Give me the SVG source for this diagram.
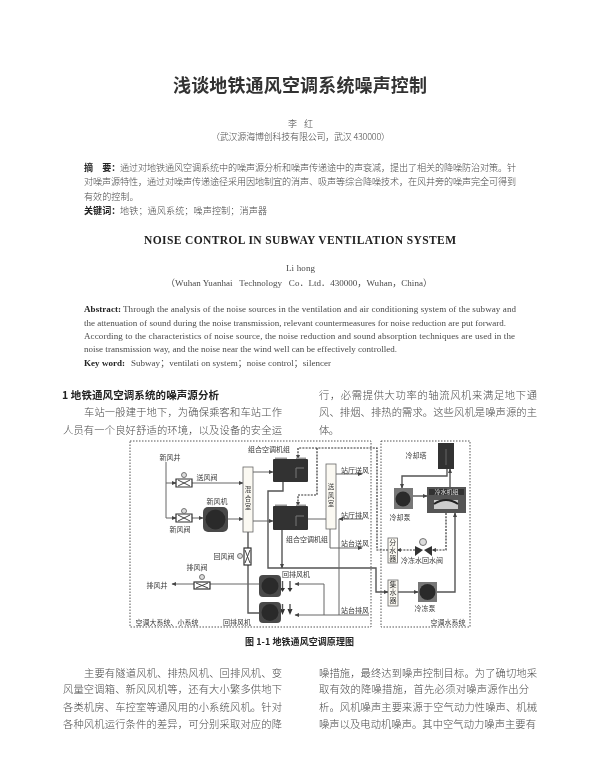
<svg xmlns="http://www.w3.org/2000/svg" width="600" height="768" viewBox="0 0 600 768">
<style>
text{font-family:"Liberation Serif","Noto Sans CJK SC",serif;fill:#4a4a4a}
.cjk{font-family:"Noto Sans CJK SC",sans-serif;font-weight:300}
.b{font-weight:700;fill:#222}
.body{font-size:10.3px}
.abs{font-size:9.1px}
.en{font-size:9px}
.l{font-size:7px;fill:#3a3a3a;text-anchor:middle;font-weight:400}
.r{font-size:6.500px}
.vt{writing-mode:vertical-rl;letter-spacing:1px}
.frame{fill:none;stroke:#444;stroke-width:.9;stroke-dasharray:1.5 1.5}
.p{fill:none;stroke:#666;stroke-width:1}
.t{fill:none;stroke:#555;stroke-width:1.4}
.d{fill:none;stroke:#333;stroke-width:1.2;stroke-dasharray:2 1.2}
.a{marker-end:url(#ah)}
.box{fill:#fbf9f2;stroke:#666;stroke-width:.8}
.fan{fill:#4a4a4a}
.hub{fill:#2c2c2c}
.v{fill:#fff;stroke:#333;stroke-width:1.2}
.vx{fill:none;stroke:#333;stroke-width:.9}
.vc{fill:#ddd;stroke:#555;stroke-width:.8}
</style>
<defs>
<marker id="ah" markerWidth="5" markerHeight="5" refX="4" refY="2.5" orient="auto" markerUnits="userSpaceOnUse"><path d="M0 .5L4.5 2.5L0 4.5z" fill="#444"/></marker>
<filter id="soft" x="0" y="0" width="1" height="1" filterUnits="objectBoundingBox"><feGaussianBlur stdDeviation="0.45"/></filter>
</defs>
<rect width="600" height="768" fill="#fff"/>
<g filter="url(#soft)">
<g id="text-top">
<text class="cjk" x="173" y="92" font-size="18" textLength="254" style="font-weight:700;fill:#333">浅谈地铁通风空调系统噪声控制</text>
<text class="cjk" x="288" y="127" font-size="9">李</text>
<text class="cjk" x="304" y="127" font-size="9">红</text>
<text class="cjk" x="211" y="140" font-size="9" textLength="179">（武汉源海博创科技有限公司，武汉 430000）</text>
<text class="cjk abs" x="84" y="170.500" style="font-weight:700;fill:#222">摘　要：</text>
<text class="cjk abs" x="120" y="170.500" textLength="396">通过对地铁通风空调系统中的噪声源分析和噪声传递途中的声衰减，提出了相关的降噪防治对策。针</text>
<text class="cjk abs" x="84" y="185" textLength="432">对噪声源特性，通过对噪声传递途径采用因地制宜的消声、吸声等综合降噪技术，在风井旁的噪声完全可得到</text>
<text class="cjk abs" x="84" y="199.500">有效的控制。</text>
<text class="cjk abs" x="84" y="214" style="font-weight:700;fill:#222">关键词：</text>
<text class="cjk abs" x="120" y="214" textLength="147">地铁；通风系统；噪声控制；消声器</text>
<text class="b" x="144" y="244" font-size="11.500" textLength="312">NOISE CONTROL IN SUBWAY VENTILATION SYSTEM</text>
<text x="286" y="271" font-size="9" textLength="29">Li hong</text>
<text x="166" y="286" font-size="9" textLength="266" xml:space="preserve">（Wuhan Yuanhai   Technology   Co．Ltd．430000，Wuhan，China）</text>
<text class="en b" x="84" y="312" textLength="37">Abstract:</text>
<text class="en" x="123" y="312" textLength="393">Through the analysis of the noise sources in the ventilation and air conditioning system of the subway and</text>
<text class="en" x="84" y="326" textLength="422">the attenuation of sound during the noise transmission, relevant countermeasures for noise reduction are put forward.</text>
<text class="en" x="84" y="339" textLength="431">According to the characteristics of noise source, the noise reduction and sound absorption techniques are used in the</text>
<text class="en" x="84" y="352" textLength="313">noise transmission way, and the noise near the wind well can be effectively controlled.</text>
<text class="en b" x="84" y="366" textLength="41">Key word:</text>
<text class="en" x="131" y="366" textLength="200">Subway；ventilati on system；noise control；silencer</text>
</g>
<g id="text-columns">
<text class="cjk" x="62" y="399" font-size="10.500" style="font-weight:700;fill:#222" textLength="157">1 地铁通风空调系统的噪声源分析</text>
<text class="cjk body" x="84" y="416" textLength="198">车站一般建于地下，为确保乘客和车站工作</text>
<text class="cjk body" x="63" y="434" textLength="219">人员有一个良好舒适的环境，以及设备的安全运</text>
<text class="cjk body" x="319" y="399" textLength="218">行，必需提供大功率的轴流风机来满足地下通</text>
<text class="cjk body" x="319" y="416" textLength="218">风、排烟、排热的需求。这些风机是噪声源的主</text>
<text class="cjk body" x="319" y="434" textLength="20">体。</text>
<text class="cjk" x="245" y="645" font-size="9" style="font-weight:700;fill:#222" textLength="109">图 1-1 地铁通风空调原理图</text>
<text class="cjk body" x="84" y="677" textLength="198">主要有隧道风机、排热风机、回排风机、变</text>
<text class="cjk body" x="63" y="693" textLength="219">风量空调箱、新风风机等，还有大小繁多供地下</text>
<text class="cjk body" x="63" y="711" textLength="219">各类机房、车控室等通风用的小系统风机。针对</text>
<text class="cjk body" x="63" y="728" textLength="219">各种风机运行条件的差异，可分别采取对应的降</text>
<text class="cjk body" x="319" y="677" textLength="218">噪措施，最终达到噪声控制目标。为了确切地采</text>
<text class="cjk body" x="319" y="693" textLength="210">取有效的降噪措施，首先必须对噪声源作出分</text>
<text class="cjk body" x="319" y="711" textLength="218">析。风机噪声主要来源于空气动力性噪声、机械</text>
<text class="cjk body" x="319" y="728" textLength="217">噪声以及电动机噪声。其中空气动力噪声主要有</text>
</g>
<g id="frames">
<rect class="frame" x="130" y="441" width="241" height="186"/>
<rect class="frame" x="381" y="441" width="89" height="186"/>
</g>
<g id="connectors">
<path class="p" d="M166 462V518"/>
<path class="p a" d="M166 483H176"/>
<path class="p a" d="M166 518H176"/>
<path class="p a" d="M192 483H243"/>
<path class="p a" d="M192 518H203"/>
<path class="p a" d="M228 519H243"/>
<path class="p a" d="M253 472H273"/>
<path class="p a" d="M253 521H273"/>
<path class="t" d="M248 532V548"/>
<path class="t" d="M248 565V613H259"/>
<path class="p a" d="M259 584H172"/>
<path class="t a" d="M283 482V491H268V568H376V592H388"/>
<path class="t a" d="M282 530V568"/>
<path class="p" d="M308 519H326"/>
<path class="p a" d="M336 474H362"/>
<path class="p a" d="M330 529V548H362"/>
<path class="p a" d="M363 519H339"/>
<path class="p" d="M339 519V615"/>
<path class="p a" d="M369 615H295"/>
<path class="p a" d="M324 615V584H295"/>
<path class="d a" d="M388 550H377V448H298V459"/>
<path class="d a" d="M317 448V495H298V506"/>
<path class="d a" d="M446 513V550H432"/>
<path class="d a" d="M415 550H397"/>
<path class="t a" d="M398 592H418"/>
<path class="t a" d="M437 592H455V513"/>
<path class="t a" d="M447 469V476H402V488"/>
<path class="t a" d="M450 487V469"/>
<path class="t a" d="M413 496H427"/>
<path class="t" d="M282.500 581V590M290 581V590"/>
<path d="M280 588L282.500 592L285 588zM287.500 588L290 592L292.500 588z" fill="#333"/>
<path d="M280 609L282.500 615L285 609zM287.500 609L290 615L292.500 609z" fill="#333"/>
<path class="t" d="M282.500 604V610M290 604V610"/>
</g>
<g id="node-xinfengjing"><text class="cjk l" x="170" y="460">新风井</text></g>
<g id="valve-songfeng"><path class="v" d="M176 479H192V487H176z"/><path class="vx" d="M178 480L190 486M178 486L190 480"/><circle class="vc" cx="184" cy="475" r="2.500"/><text class="cjk l" x="207" y="480">送风阀</text></g>
<g id="valve-xinfeng"><path class="v" d="M176 514H192V522H176z"/><path class="vx" d="M178 515L190 521M178 521L190 515"/><circle class="vc" cx="184" cy="511" r="2.500"/><text class="cjk l" x="180" y="532">新风阀</text></g>
<g id="fan-xinfeng"><rect class="fan" x="203" y="507" width="25" height="25" rx="5"/><circle class="hub" cx="215.500" cy="519.500" r="10"/><text class="cjk l" x="217" y="504">新风机</text></g>
<g id="mix-room"><rect class="box" x="243" y="467" width="10" height="65"/><text class="cjk l r" x="248" y="492">混<tspan x="248" dy="8.500">合</tspan><tspan x="248" dy="8.500">室</tspan></text></g>
<g id="ahu-top"><rect x="273" y="459" width="35" height="23" rx="1" fill="#333"/><path d="M296 478V468H304" fill="none" stroke="#777"/><path d="M275 459h12v-1.500h-12zM296 459h10v-1.500h-10z" fill="#999"/><text class="cjk l" x="269" y="452">组合空调机组</text></g>
<g id="ahu-bottom"><rect x="273" y="506" width="35" height="24" rx="1" fill="#333"/><path d="M296 526V516H304" fill="none" stroke="#777"/><path d="M275 506h12v-1.500h-12zM296 506h10v-1.500h-10z" fill="#999"/><text class="cjk l" x="307" y="542">组合空调机组</text></g>
<g id="supply-room"><rect class="box" x="326" y="464" width="10" height="65"/><text class="cjk l r" x="331" y="489">送<tspan x="331" dy="8.500">风</tspan><tspan x="331" dy="8.500">室</tspan></text></g>
<g id="valve-huifeng"><rect class="v" x="244" y="548" width="7" height="17"/><path class="vx" d="M245 550L250 563M250 550L245 563"/><circle class="vc" cx="240" cy="556" r="2.500"/><text class="cjk l" x="224" y="559">回风阀</text></g>
<g id="valve-paifeng"><rect class="v" x="194" y="582" width="16" height="7"/><path class="vx" d="M196 583L208 588M196 588L208 583"/><circle class="vc" cx="202" cy="577" r="2.500"/><text class="cjk l" x="197" y="570">排风阀</text></g>
<g id="node-paifengjing"><text class="cjk l" x="157" y="588">排风井</text></g>
<g id="fan-huipai-1"><rect class="fan" x="259" y="575" width="22" height="22" rx="4"/><circle class="hub" cx="270" cy="586" r="8.500"/><text class="cjk l" x="296" y="577">回排风机</text></g>
<g id="fan-huipai-2"><rect class="fan" x="259" y="602" width="22" height="21" rx="4"/><circle class="hub" cx="270" cy="612.500" r="8.500"/><text class="cjk l" x="237" y="625">回排风机</text></g>
<g id="labels-air">
<text class="cjk l" x="355" y="473">站厅送风</text>
<text class="cjk l" x="355" y="518">站厅排风</text>
<text class="cjk l" x="355" y="546">站台送风</text>
<text class="cjk l" x="355" y="613">站台排风</text>
<text class="cjk l" x="167" y="625">空调大系统、小系统</text>
</g>
<g id="cooling-tower"><rect x="438" y="443" width="16" height="26" fill="#333"/><path d="M446 449V465" stroke="#666"/><text class="cjk l" x="416" y="458">冷却塔</text></g>
<g id="cooling-pump"><rect x="394" y="488" width="19" height="21" fill="#777"/><circle class="hub" cx="403" cy="499" r="7.500"/><text class="cjk l" x="400" y="520">冷却泵</text></g>
<g id="chiller"><rect x="427" y="487" width="39" height="26" fill="#555"/><rect x="429" y="489" width="35" height="6" fill="#333"/><rect x="434" y="500" width="24" height="9" fill="#ccc"/><path d="M434 504Q446 496 458 504" fill="none" stroke="#222" stroke-width="2"/><text class="cjk l" x="446.500" y="494" style="font-size:6px;fill:#ddd">冷水机组</text></g>
<g id="distributor"><rect class="box" x="388" y="538" width="9.500" height="25"/><text class="cjk l vt" x="392.700" y="550.500">分水器</text></g>
<g id="collector"><rect class="box" x="388" y="580" width="10" height="26"/><text class="cjk l vt" x="393" y="593">集水器</text></g>
<g id="valve-return"><path d="M415 546L423 550L415 556zM432 546L424 550L432 556z" fill="#333"/><circle class="vc" cx="423" cy="542" r="3.500"/><text class="cjk l" x="422" y="563">冷冻水回水阀</text></g>
<g id="chilled-pump"><rect x="418" y="582" width="19" height="20" fill="#777"/><circle class="hub" cx="427.500" cy="592" r="8"/><text class="cjk l" x="425" y="611">冷冻泵</text></g>
<g id="label-water"><text class="cjk l" x="448" y="625">空调水系统</text></g>
</g>
</svg>
